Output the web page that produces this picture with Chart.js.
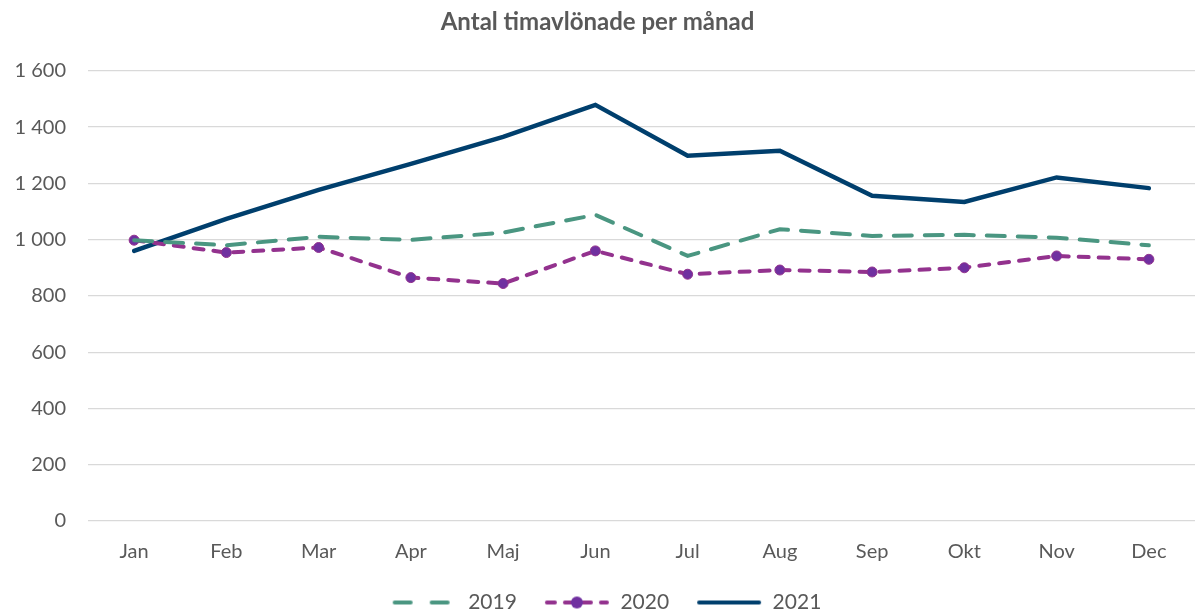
<!DOCTYPE html>
<html>
<head>
<meta charset="utf-8">
<script src="https://cdn.jsdelivr.net/npm/chart.js@4"></script>
<style>
  html, body { margin: 0; padding: 0; background: #fff; }
  #wrap { width: 1195px; height: 615px; }
</style>
</head>
<body>
<div id="wrap"><canvas id="chart"></canvas></div>
<script>
const months = ['Jan', 'Feb', 'Mar', 'Apr', 'Maj', 'Jun', 'Jul', 'Aug', 'Sep', 'Okt', 'Nov', 'Dec'];
const values2019 = [998, 980, 1010, 999, 1025, 1088, 942, 1037, 1013, 1017, 1007, 980];
const values2020 = [998, 954, 972, 865, 844, 960, 877, 892, 885, 900, 942, 930];
const values2021 = [960, 1074, 1177, 1269, 1365, 1479, 1298, 1316, 1156, 1134, 1221, 1183];
const yTicks = [0, 200, 400, 600, 800, 1000, 1200, 1400, 1600];

const green = '#4a9681';
const purple = '#93328e';
const purpleDot = '#7030a0';
const navy = '#003f6d';
const textColor = '#595959';
const fontFamily = 'Lato, "Open Sans", sans-serif';

// legend samples: a short line with the series' dash and marker,
// with empty room on the left so the items sit further apart
function legendSample(color, dash, marker) {
    const c = document.createElement('canvas');
    c.width = 84;
    c.height = 14;
    const g = c.getContext('2d');
    g.strokeStyle = color;
    g.lineWidth = 4;
    g.lineCap = 'round';
    g.setLineDash(dash);
    g.beginPath();
    g.moveTo(21, 7);
    g.lineTo(81, 7);
    g.stroke();
    if (marker) {
        g.setLineDash([]);
        g.fillStyle = purpleDot;
        g.beginPath();
        g.arc(51, 7, 6, 0, Math.PI * 2);
        g.fill();
    }
    return c;
}

const samples = [
    legendSample(green, [16, 21], false),
    legendSample(purple, [8, 10], true),
    legendSample(navy, [], false)
];

const ctx = document.getElementById('chart').getContext('2d');
new Chart(ctx, {
    type: 'line',
    data: {
        labels: months,
        datasets: [
            {
                label: '2019',
                data: values2019,
                borderColor: green,
                borderWidth: 4,
                borderDash: [18, 13],
                borderCapStyle: 'round',
                pointRadius: 0,
                tension: 0
            },
            {
                label: '2020',
                data: values2020,
                borderColor: purple,
                borderWidth: 4,
                borderDash: [10, 10],
                borderCapStyle: 'round',
                pointRadius: 5,
                pointBackgroundColor: purpleDot,
                pointBorderColor: purple,
                pointBorderWidth: 1,
                tension: 0
            },
            {
                label: '2021',
                data: values2021,
                borderColor: navy,
                borderWidth: 4.5,
                borderCapStyle: 'round',
                pointRadius: 0,
                tension: 0
            }
        ]
    },
    options: {
        responsive: true,
        maintainAspectRatio: false,
        animation: false,
        layout: { autoPadding: false, padding: { left: 0, right: 0, top: 4, bottom: -8 } },
        scales: {
            x: {
                offset: true,
                afterFit: axis => { axis.paddingLeft = 0; axis.paddingRight = 0; axis.height += 8; },
                grid: { display: false },
                border: { display: false },
                ticks: {
                    color: textColor,
                    font: { family: fontFamily, size: 20 },
                    padding: 11
                }
            },
            y: {
                min: 0,
                max: 1600,
                afterBuildTicks: axis => { axis.ticks = yTicks.map(v => ({ value: v })); },
                afterFit: axis => { axis.width = 88; },
                grid: { color: '#d9d9d9', lineWidth: 1.3, drawTicks: false },
                border: { display: false },
                ticks: {
                    color: textColor,
                    font: { family: fontFamily, size: 20 },
                    padding: 22,
                    callback: v => v.toString().replace(/\B(?=(\d{3})+(?!\d))/g, ' ')
                }
            }
        },
        plugins: {
            title: {
                display: true,
                text: 'Antal timavlönade per månad',
                color: textColor,
                font: { family: fontFamily, size: 24, weight: 'bold' },
                padding: { top: 4, bottom: 34 }
            },
            legend: {
                position: 'bottom',
                labels: {
                    color: textColor,
                    font: { family: fontFamily, size: 21 },
                    usePointStyle: true,
                    pointStyleWidth: 84,
                    boxHeight: 14,
                    padding: 9,
                    generateLabels: chart => chart.data.datasets.map((ds, i) => ({
                        text: ds.label,
                        pointStyle: samples[i],
                        fontColor: textColor,
                        datasetIndex: i,
                        hidden: false
                    }))
                }
            },
            tooltip: { enabled: false }
        }
    }
});
</script>
</body>
</html>
